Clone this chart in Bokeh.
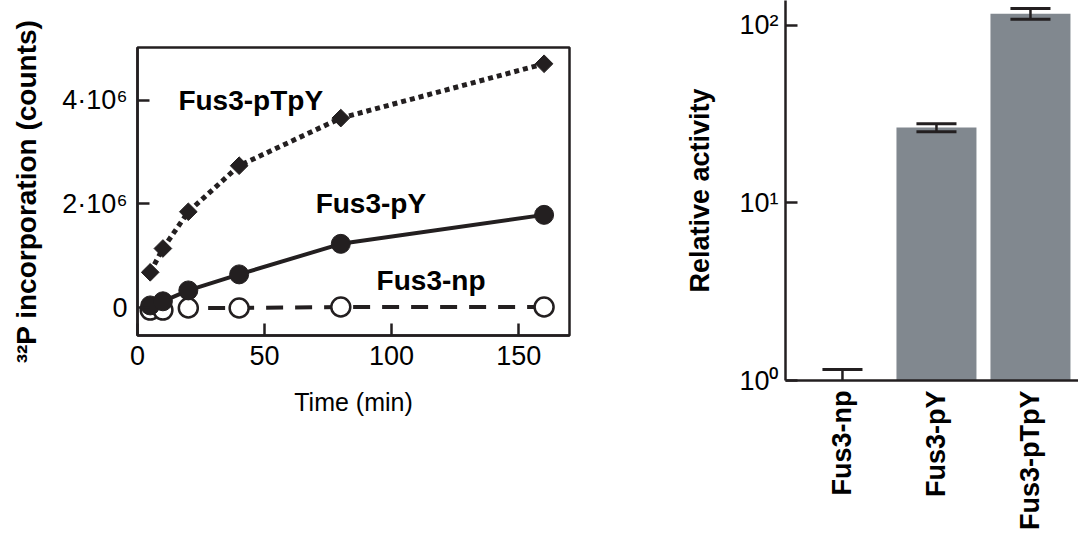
import numpy as np
from bokeh.plotting import figure
from bokeh.layouts import row
from bokeh.models import Range1d, FixedTicker, ColumnDataSource
from bokeh.core.properties import value
from bokeh.embed import file_html
from bokeh.resources import INLINE

# ---------------- data ----------------
time_min = [5, 10, 20, 40, 80, 160]
fus3_pTpY = [0.68e6, 1.14e6, 1.85e6, 2.74e6, 3.66e6, 4.71e6]
fus3_pY = [0.04e6, 0.12e6, 0.33e6, 0.64e6, 1.23e6, 1.79e6]
fus3_np = [-0.05e6, -0.05e6, -0.01e6, -0.01e6, 0.01e6, 0.01e6]

series_names = ["Fus3-pTpY", "Fus3-pY", "Fus3-np"]
label_x = [16.1, 70.1, 94.1]
label_y = [4.0e6, 2.01e6, 0.52e6]

x_ticks = [0, 50, 100, 150]
y_ticks = [0, 2e6, 4e6]
y_tick_labels = ["0", "2·10⁶", "4·10⁶"]

bar_categories = ["Fus3-np", "Fus3-pY", "Fus3-pTpY"]
bar_values = [1.0, 26.6, 116.5]
bar_errors = [0.153, 1.4, 8.0]
log_ticks = [1, 10, 100]
log_tick_labels = ["10⁰", "10¹", "10²"]

INK = "#231f20"
BAR = "#81888f"
FONT = "Liberation Sans"
H = 546

# ---------------- left: time course ----------------
p1 = figure(width=640, height=H, output_backend="svg", toolbar_location=None,
            x_range=Range1d(0, 170), y_range=Range1d(-0.541e6, 5.024e6),
            min_border_left=137, min_border_right=71, min_border_top=47,
            min_border_bottom=H - 335)
p1.frame_align = False
p1.grid.visible = False
p1.outline_line_color = INK
p1.outline_line_width = 2.5
p1.background_fill_color = "white"
p1.border_fill_color = "white"

# Fus3-np (dashed, open circles)
p1.line(time_min, fus3_np, line_color=INK, line_width=4, line_dash="17 12")
p1.scatter(time_min, fus3_np, marker="circle", size=19, fill_color="white",
           line_color=INK, line_width=2.5)
# Fus3-pY (solid, filled circles)
p1.line(time_min, fus3_pY, line_color=INK, line_width=4)
p1.scatter(time_min, fus3_pY, marker="circle", size=19, fill_color=INK,
           line_color=INK)
# Fus3-pTpY (dotted, diamonds)
p1.line(time_min, fus3_pTpY, line_color=INK, line_width=5, line_dash="5 4")
p1.scatter(time_min, fus3_pTpY, marker="square", angle=np.pi / 4, size=12.5,
           fill_color=INK, line_color=INK)

p1.text(x=label_x, y=label_y, text=series_names, text_font=value(FONT),
        text_font_style="bold", text_font_size="28px", text_align="left",
        text_baseline="middle", text_color="black")

for ax in (p1.xaxis[0], p1.yaxis[0]):
    ax.axis_line_color = INK
    ax.axis_line_width = 2.5
    ax.major_tick_line_color = INK
    ax.major_tick_line_width = 2.5
    ax.major_tick_in = 12
    ax.major_tick_out = 0
    ax.minor_tick_line_color = None
    ax.major_label_text_font = FONT
    ax.major_label_text_font_size = "27px"
    ax.major_label_text_color = "black"

p1.xaxis.ticker = FixedTicker(ticks=x_ticks)
p1.xaxis.major_label_standoff = 10
p1.xaxis.axis_label = "Time (min)"
p1.xaxis.axis_label_text_font = FONT
p1.xaxis.axis_label_text_font_style = "normal"
p1.xaxis.axis_label_text_font_size = "25px"
p1.xaxis.axis_label_text_color = "black"
p1.xaxis.axis_label_standoff = 20

p1.yaxis.ticker = FixedTicker(ticks=y_ticks)
p1.yaxis.major_label_overrides = {t: s for t, s in zip(y_ticks, y_tick_labels)}
p1.yaxis.major_label_standoff = 10
p1.yaxis.axis_label = "³²P incorporation (counts)"
p1.yaxis.axis_label_text_font = FONT
p1.yaxis.axis_label_text_font_style = "bold"
p1.yaxis.axis_label_text_font_size = "28px"
p1.yaxis.axis_label_text_color = "black"
p1.yaxis.axis_label_standoff = 17

# ---------------- right: relative activity ----------------
idx = list(range(len(bar_categories)))
upper = [v + e for v, e in zip(bar_values, bar_errors)]
lower = [v - e for v, e in zip(bar_values, bar_errors)]
cap_half = 0.213
src = ColumnDataSource(dict(
    x=idx, top=bar_values, upper=upper, lower=lower,
    x0=[i - cap_half for i in idx], x1=[i + cap_half for i in idx],
))

p2 = figure(width=438, height=H, output_backend="svg", toolbar_location=None,
            x_range=Range1d(-0.606, 2.511), y_range=Range1d(1, 138.3),
            y_axis_type="log",
            min_border_left=145, min_border_right=0, min_border_top=0,
            min_border_bottom=H - 380)
p2.frame_align = False
p2.grid.visible = False
p2.outline_line_color = None
p2.background_fill_color = "white"
p2.border_fill_color = "white"

p2.vbar(x="x", top="top", bottom=1, width=0.851, source=src,
        fill_color=BAR, line_color=None)
p2.segment(x0="x", x1="x", y0="lower", y1="upper", source=src,
           line_color=INK, line_width=2.5)
p2.segment(x0="x0", x1="x1", y0="upper", y1="upper", source=src,
           line_color=INK, line_width=3)
p2.segment(x0="x0", x1="x1", y0="lower", y1="lower", source=src,
           line_color=INK, line_width=3)

for ax in (p2.xaxis[0], p2.yaxis[0]):
    ax.axis_line_color = INK
    ax.axis_line_width = 2.5
    ax.major_tick_line_color = INK
    ax.major_tick_line_width = 2.5
    ax.minor_tick_line_color = None
    ax.major_label_text_font = FONT
    ax.major_label_text_color = "black"

p2.yaxis.ticker = FixedTicker(ticks=log_ticks)
p2.yaxis.major_label_overrides = {t: s for t, s in zip(log_ticks, log_tick_labels)}
p2.yaxis.major_tick_in = 12
p2.yaxis.major_tick_out = 0
p2.yaxis.major_label_standoff = 7
p2.yaxis.major_label_text_font_size = "27px"
p2.yaxis.axis_label = "Relative activity"
p2.yaxis.axis_label_text_font = FONT
p2.yaxis.axis_label_text_font_style = "bold"
p2.yaxis.axis_label_text_font_size = "27px"
p2.yaxis.axis_label_text_color = "black"
p2.yaxis.axis_label_standoff = 21

p2.xaxis.ticker = FixedTicker(ticks=idx)
p2.xaxis.major_label_overrides = {i: c for i, c in zip(idx, bar_categories)}
p2.xaxis.major_tick_in = 0
p2.xaxis.major_tick_out = 0
p2.xaxis.major_label_orientation = np.pi / 2
p2.xaxis.major_label_standoff = 10
p2.xaxis.major_label_text_font_style = "bold"
p2.xaxis.major_label_text_font_size = "27px"

layout = row(p1, p2)
open("out.html", "w").write(file_html(layout, INLINE))
